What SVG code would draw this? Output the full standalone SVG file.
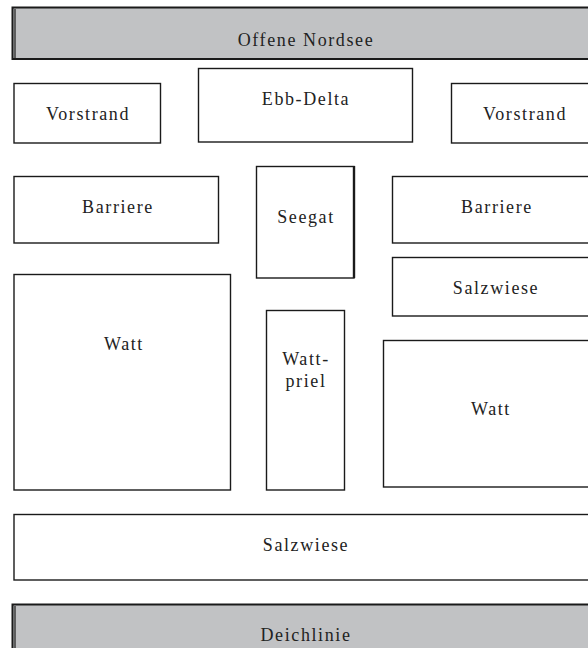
<svg xmlns="http://www.w3.org/2000/svg" width="588" height="648" viewBox="0 0 588 648">
<style>
.box{fill:#ffffff;stroke:#1a1a1a;stroke-width:1.4}
.band{fill:#c1c2c4;stroke:#1a1a1a;stroke-width:2}
.dbl{stroke:#1a1a1a;stroke-width:1.2;fill:none}
text{font-size:18px;letter-spacing:1.6px;fill:#222;text-anchor:middle}
</style>
<rect width="588" height="648" fill="#ffffff"/>
<g font-family="Liberation Serif, Times New Roman, serif">
<g id="offene-nordsee">
<rect class="band" x="12.5" y="7.5" width="590" height="51.5"/>
<line class="dbl" x1="15" y1="9" x2="15" y2="58"/>
<text x="306" y="46">Offene Nordsee</text>
</g>
<g id="vorstrand-links">
<rect class="box" x="14" y="83.5" width="146.5" height="59.5"/>
<text x="88" y="120">Vorstrand</text>
</g>
<g id="ebb-delta">
<rect class="box" x="198.5" y="68.5" width="214" height="73.5"/>
<text x="306" y="105">Ebb-Delta</text>
</g>
<g id="vorstrand-rechts">
<rect class="box" x="451.5" y="83.5" width="150" height="59.5"/>
<text x="525" y="120">Vorstrand</text>
</g>
<g id="barriere-links">
<rect class="box" x="14" y="176.5" width="204.5" height="66.5"/>
<text x="118" y="213">Barriere</text>
</g>
<g id="seegat">
<rect class="box" x="256.5" y="166.5" width="97.5" height="111.5"/>
<line x1="354" y1="166" x2="354" y2="278" stroke="#1a1a1a" stroke-width="2.4"/>
<text x="306" y="223">Seegat</text>
</g>
<g id="barriere-rechts">
<rect class="box" x="392.5" y="176.5" width="210" height="66.5"/>
<text x="497" y="213">Barriere</text>
</g>
<g id="salzwiese-rechts">
<rect class="box" x="392.5" y="257.5" width="210" height="58.5"/>
<text x="496" y="294">Salzwiese</text>
</g>
<g id="watt-links">
<rect class="box" x="14" y="274.5" width="216.5" height="215.5"/>
<text x="124" y="350">Watt</text>
</g>
<g id="wattpriel">
<rect class="box" x="266.5" y="310.5" width="78" height="179.5"/>
<text x="306" y="365">Watt-</text>
<text x="306" y="387">priel</text>
</g>
<g id="watt-rechts">
<rect class="box" x="383.5" y="340.5" width="220" height="146.5"/>
<text x="491" y="415">Watt</text>
</g>
<g id="salzwiese-unten">
<rect class="box" x="14" y="514.5" width="590" height="65.5"/>
<text x="306" y="551">Salzwiese</text>
</g>
<g id="deichlinie">
<rect class="band" x="12.5" y="604.5" width="590" height="51"/>
<line class="dbl" x1="15" y1="606" x2="15" y2="648"/>
<text x="306" y="641">Deichlinie</text>
</g>
</g>
<g id="connectors"></g>
</svg>
